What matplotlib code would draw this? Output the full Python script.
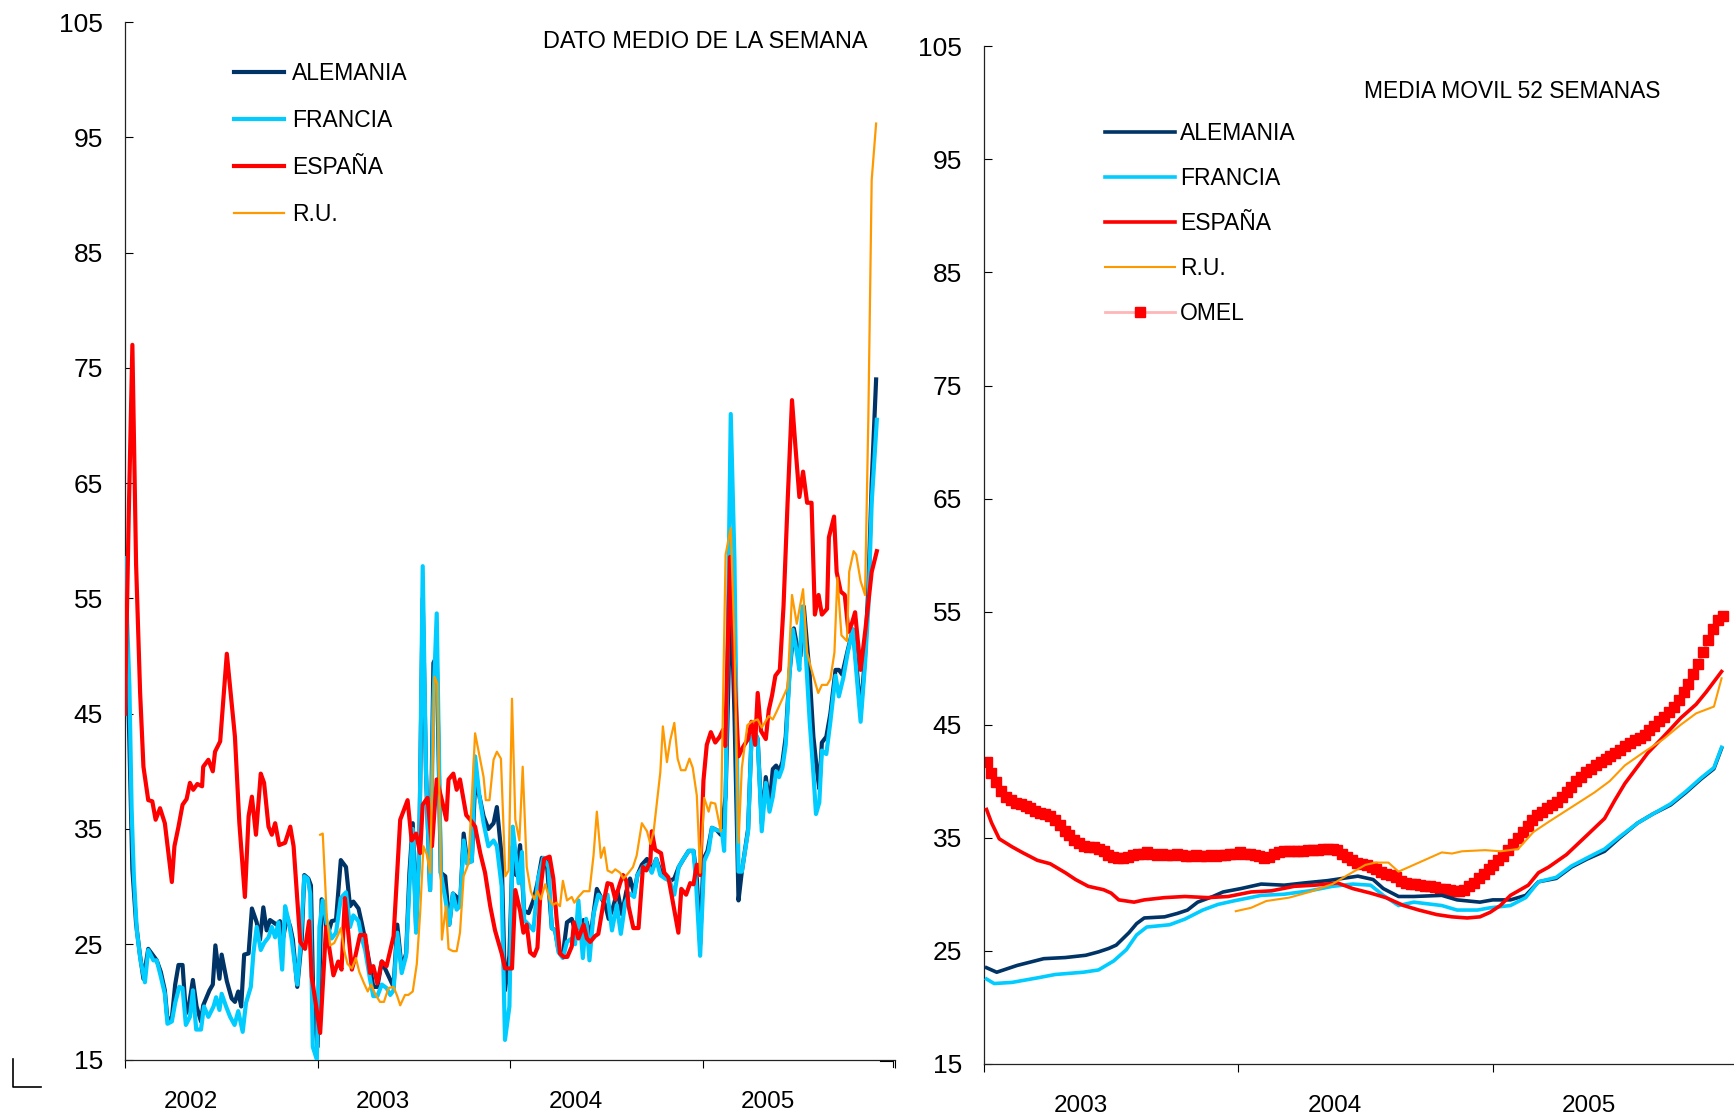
import matplotlib
matplotlib.use("Agg")
import matplotlib.pyplot as plt
from matplotlib.lines import Line2D
import numpy as np

plt.rcParams['font.family'] = ['Liberation Sans', 'DejaVu Sans']

# ---- panel izquierdo: dato medio de la semana (semanas desde 1-ene-2002) ----
es_wk = [0, 1, 2, 3, 4.1, 5, 6.3, 7.4, 8.3, 9.5, 10.8, 12.7, 13.4, 14.5, 15.6, 16.7, 17.6, 18.5, 19.6, 20.9,
         21.2, 22.6, 23.8, 24.4, 25.8, 27.6, 29.8, 31, 32.5, 33.5, 34.4, 35.5, 36.8, 37.7, 38.9, 39.8, 40.7,
         41.8, 43.4, 44.8, 45.7, 47.5, 48.8, 49.9, 50.6, 52.9, 54.5, 56.5, 57.8, 58.7, 59.6, 61.5, 62.4, 63.7,
         65.1, 66.4, 67.3, 68.4, 69.6, 70.9, 72.8, 74.6, 76.6, 77.7, 78.9, 80, 80.7, 82, 83.2, 84.5, 85.9,
         87.1, 87.7, 89, 89.9, 90.8, 92.5, 93.6, 94.9, 96.3, 97.6, 99, 100.3, 102.1, 103, 104.9, 105.8, 107.1,
         108, 108.9, 109.8, 110.9, 111.8, 112.7, 113.6, 115.1, 116.1, 117, 117.9, 118.9, 119.9, 121.1, 121.7,
         122.9, 124.3, 125.2, 126.1, 127.4, 128.3, 129.7, 130.8, 131.9, 132.9, 134.2, 135, 135.9, 136.5,
         137.8, 139.2, 140.4, 141.3, 142.4, 142.8, 143.7, 145.3, 146.2, 147.3, 148.7, 150, 150.8, 152.1,
         153.2, 154.1, 155, 155.9, 156.8, 157.7, 158.8, 160, 161.2, 162.1, 162.7, 164, 165.2, 166.3, 167.5,
         168.9, 169.8, 170.8, 171.5, 172.4, 173.7, 174.5, 175.4, 176.3, 177.5, 178.5, 179.6, 180.8, 181.7,
         182.8, 183.8, 184.9, 186.1, 187, 188, 188.9, 190.3, 190.8, 192.2, 192.9, 194, 195.1, 196.1, 197,
         197.9, 199.4, 200.7, 202.4, 203.8]
es_val = [45, 62, 77, 58, 46.8, 40.4, 37.5, 37.4, 35.8, 36.8, 35.5, 30.4, 33.5, 35.2, 37.1, 37.6, 39, 38.4, 38.9, 38.7,
          40.4, 41, 40, 41.7, 42.6, 50.2, 43, 35.5, 29.1, 36.1, 37.8, 34.5, 39.8, 39, 35.2, 34.5, 35.5,
          33.6, 33.8, 35.2, 33.5, 25.2, 24.6, 27, 22.2, 17.3, 26.5, 22.3, 23.5, 22.8, 29, 22.8, 23.9, 25.8,
          25.8, 22.5, 23.1, 21.6, 23.5, 23.1, 25.7, 35.8, 37.5, 34, 34.6, 32.9, 37.1, 37.7, 33.5, 39.3, 37.5,
          35.8, 39.3, 39.8, 38.4, 39.3, 36.2, 35.8, 35.2, 32.9, 31.2, 28.3, 26.2, 24.2, 22.9, 22.9, 29.7, 27.9,
          26, 26.7, 24.3, 24, 24.7, 30, 32.4, 32.6, 30.7, 27.2, 24.2, 23.9, 23.9, 24.8, 26.9,
          25.5, 26.7, 25.5, 25.2, 25.7, 25.9, 28.6, 30.3, 30.2, 28.9, 30.3, 31, 30.5, 28.3,
          26.4, 26.4, 31.7, 31.4, 32.2, 34.8, 33.2, 32.9, 31.2, 30.8, 28.3, 26, 29.8, 29.3,
          30.3, 30.2, 31.9, 31, 39.2, 42.3, 43.4, 42.5, 43, 43.6, 42.2, 58.6, 48.3, 41.3, 42.1,
          42.8, 44.3, 42.3, 46.8, 43.5, 42.8, 45.3, 46.6, 48.3, 48.8, 54.3, 63.3, 72.2, 68.3,
          63.8, 66, 63.3, 63.3, 53.6, 55.3, 53.6, 54.1, 60.3, 62.1, 57.3, 55.6, 55.3, 52.1, 52.8,
          53.8, 48.8, 52.3, 57.3, 59.1]

de_wk = [0, 1, 2, 3, 4, 5, 6.3, 7.7, 8.6, 9.7, 10.8, 11.5, 12.7, 13.6, 14.5, 15.6, 16.5, 17.2, 18.4, 19.4,
         20.6, 21.2, 22.9, 23.8, 24.5, 25.6, 26.2, 27.6, 28.9, 29.8, 30.7, 31.5, 32.3, 33.5, 34.4, 35.7, 36.6,
         37.5, 38.4, 39.3, 40.2, 41.1, 42, 42.9, 43.9, 44.8, 45.5, 46.7, 47.9, 48.6, 49.7, 50.4, 51.1, 52.2,
         53.3, 54, 54.7, 56, 57.2, 58.5, 59.9, 61, 61.9, 63.3, 64.2, 65.1, 66.4, 67.3, 68.4, 69.6, 70.9, 71.9,
         72.8, 73.8, 75, 76.2, 77.1, 78, 78.9, 79.8, 80.7, 81.6, 82.7, 83.6, 84.5, 85.6, 86.8, 87.9, 88.9,
         89.9, 90.8, 91.8, 92.7, 94, 94.9, 96.1, 97.2, 98.5, 99.9, 100.8, 102.1, 103, 104.2, 105.1, 106,
         107.1, 108.2, 109.4, 110.7, 111.8, 113, 114.3, 115.7, 116.6, 117.5, 118.7, 119.8, 121.1, 122, 123.2,
         124.3, 125.2, 126.1, 127.9, 129.3, 130.2, 131.1, 132.2, 133.5, 134.7, 135.9, 136.9, 138, 138.9,
         140.1, 141.5, 142.8, 144, 145.1, 146.4, 147.8, 148.9, 150.1, 151.4, 152.8, 154.1, 155, 155.9, 156.8,
         157.9, 159.1, 160.4, 161.5, 162.8, 164.2, 165.2, 166.3, 167.2, 168.9, 169.8, 170.8, 171.5, 172.6,
         173.7, 174.7, 175.6, 176.5, 177.3, 178.2, 179.1, 180.1, 181.3, 182.1, 183.1, 184, 185.6, 186.6,
         187.6, 188.2, 188.9, 190.1, 191.2, 192.6, 193.5, 194.4, 195.9, 197.3, 198.2, 199.4, 200.6, 201.5,
         202.4, 203.6]
de_val = [55, 45, 31.5, 26.8, 24.2, 22, 24.6, 24, 23.6, 22.6, 21, 18.5, 18.6, 21.5, 23.2, 23.2, 19, 19.4, 21.9, 19.6,
          18.3, 19.7, 21, 21.5, 24.9, 22, 24.1, 21.8, 20.3, 20, 20.9, 19.6, 24.1, 24.2, 28.1, 26.9, 25.4,
          28.2, 26.2, 27.1, 26.9, 26.7, 27, 25.6, 27.4, 26.5, 25.4, 21.3, 25.4, 31, 30.7, 30.1, 19.3, 16.1,
          28.9, 28.5, 25.5, 27, 27.1, 32.3, 31.7, 28.3, 28.7, 28.1, 26.8, 25.4, 23.1, 21.3, 21.3, 23.5, 22.6, 21.9,
          21.3, 26.7, 22.9, 24.2, 31.2, 35.5, 26.5, 34, 55, 39.8, 29.7, 49.4, 50, 31.2, 30.9, 26.7, 29.4,
          29.1, 28.3, 34.6, 32.3, 32.2, 39, 37.8, 36.1, 35, 35.5, 36.9, 32.6, 21, 24, 33.5, 31,
          33.6, 27.9, 27.7, 28.8, 30.3, 32.5, 32.2, 26.4, 26.2, 24.5, 24.1, 26.9, 27.2, 26.2, 26.5,
          27.1, 26.9, 25.5, 29.8, 28.9, 28.4, 27.2, 28.1, 29.6, 27.6, 29.6, 30.7, 29.4, 31,
          31.9, 32.4, 31.4, 32.4, 31.4, 30.8, 30.5, 30.7, 31.7, 32.4, 33.1, 33.1, 30.7, 25, 32.4,
          33.1, 35.1, 34.9, 34.5, 37.8, 56, 45, 28.8, 31.3, 35, 42.8, 43.3, 42.8, 35.5,
          39.5, 37, 40.2, 40.5, 40, 40.8, 43, 48.5, 52.4, 51, 50, 54.3, 48.3, 43,
          40, 38.5, 42.5, 43, 45, 48.8, 48.8, 48.4, 50.5, 52.3, 49.5, 45, 50, 56,
          65, 74]

fr_wk = [0, 1.2, 1.8, 2.4, 3.2, 4.2, 5.4, 6.3, 7.7, 8.6, 9.7, 10.8, 11.5, 12.7, 13.6, 14.7, 15.6, 16.5, 17.6,
         18.4, 19.3, 20.6, 21.4, 22.6, 24, 24.7, 25.6, 26.2, 27.4, 28.5, 29.7, 30.7, 31.9, 32.8, 34.1, 34.8,
         35.7, 36.8, 37.7, 38.9, 39.8, 40.7, 41.6, 42.6, 43.4, 44.3, 45.2, 46.7, 47.6, 48.6, 49.5, 50.2, 50.9,
         52, 52.7, 53.6, 54.7, 56, 57.2, 58.5, 59.9, 61, 61.9, 63.3, 64.2, 65.1, 66.4, 67.3, 68.4, 69.6, 70.9,
         71.9, 72.8, 73.8, 75, 76.2, 77.1, 78, 78.9, 79.8, 80.7, 81.6, 82.7, 83.6, 84.5, 85.6, 86.8, 87.9,
         88.9, 89.9, 90.8, 91.8, 92.7, 94, 94.9, 96.1, 97.2, 98.5, 99.9, 100.8, 102.1, 103, 104.2, 105.1,
         106.7, 107.6, 108.2, 109.4, 110.7, 112, 113.4, 114.8, 115.7, 116.6, 117.5, 118.7, 119.8, 121.1, 122,
         122.9, 124.1, 125, 125.9, 127, 128.3, 129.5, 130.8, 132, 133.3, 134.4, 135.6, 136.8, 138, 138.9,
         140.4, 141.6, 142.8, 144, 145.1, 146.4, 147.6, 148.9, 150.1, 151.4, 152.8, 154.1, 154.8, 155.9, 157,
         158.2, 159.1, 160.4, 161.8, 162.4, 162.8, 164.2, 165.2, 166.3, 167.2, 168.9, 169.8, 170.8, 171.5,
         172.6, 173.7, 174.7, 175.6, 176.5, 177.3, 178.2, 179.1, 180.1, 181, 182.1, 182.8, 183.6, 184.5,
         185.6, 186.6, 187.3, 188.2, 188.9, 190.1, 191.2, 192.6, 193.5, 194.7, 195.9, 197.3, 198.2, 199.4,
         200.6, 201.5, 202.4, 203.8]
fr_val = [58.5, 47.3, 36.6, 30.9, 26.2, 23.6, 21.7, 24.5, 23.6, 23.6, 22.2, 20.7, 18.1, 18.3, 19.9, 21.3, 21.2, 18, 18.7,
          21, 17.6, 17.6, 19.6, 18.7, 19.6, 20.4, 19.3, 20.7, 19.6, 18.7, 18, 19.2, 17.4, 19.9, 21.3, 24.2,
          26.5, 24.5, 25.1, 25.6, 26.5, 25.6, 26.9, 22.8, 28.3, 27.1, 25.4, 21.5, 25.1, 30.9, 30.7, 29.4, 16.1,
          15, 26.5, 28.8, 26.8, 25.5, 26, 29, 29.5, 26.5, 27.5, 27, 25.5, 24.5, 22, 20.5, 20.5, 21.5, 21.2,
          20.6, 21, 26, 22.5, 24, 30, 35, 26, 33.5, 57.8, 39.8, 29.7, 46, 53.7, 31.2, 29, 26.7,
          29.4, 28, 28.3, 34, 32, 32.2, 41.3, 37.8, 35.5, 33.5, 34, 33.5, 30, 16.7, 19.6, 35.2,
          30.3, 33, 27.1, 26.7, 26.2, 30.7, 32.5, 31.7, 26.4, 26.2, 24.3, 23.8, 25.2, 25.5, 25,
          28.8, 23.8, 27.2, 23.6, 27.6, 29.3, 28.9, 29.3, 26.2, 28.4, 25.9, 28.6, 29.4, 29.1, 31,
          31.7, 31.9, 31.2, 32.4, 31, 30.7, 30.5, 29.3, 31.7, 32.4, 33.1, 33.1, 30.3, 24, 32.2,
          33.1, 35.1, 34.9, 34.8, 33.1, 37.8, 71, 58.3, 31.3, 31.3, 34.8, 42.8, 43.3, 42.8,
          34.8, 39, 36.5, 37.8, 40, 39.5, 40.3, 42.3, 48.3, 52.3, 50.3, 48.8, 54.3, 50.3,
          44.3, 39.8, 36.3, 37.3, 41.8, 41.5, 44.3, 48.3, 46.5, 48.1, 50.3, 52.3, 48.8, 44.3,
          49.3, 54.3, 63.3, 70.5]

ru_wk = [52.9, 53.6, 54.7, 55.6, 56.7, 57.6, 58.5, 59.4, 60.3, 61.5, 62.6, 63.5, 64.8, 65.8, 66.7, 67.8, 69.1,
         70.2, 71.4, 72.8, 73.8, 74.6, 75.9, 76.8, 78, 79.1, 80, 80.9, 81.8, 82.7, 83.9, 84.7, 85.9, 87, 87.7,
         88.9, 89.9, 90.8, 91.8, 93.1, 94.9, 96.1, 97.2, 97.8, 98.8, 99.9, 100.8, 101.9, 103.1, 104, 104.9,
         105.8, 106.9, 107.8, 108.9, 110, 110.9, 111.8, 112.7, 113.9, 115.1, 116, 116.9, 117.9, 118.7, 119.8,
         121.1, 121.8, 122.9, 124.3, 125.9, 127, 127.9, 129, 129.9, 130.8, 132, 132.9, 134.2, 135.1, 136.5,
         137.7, 138.7, 140.1, 141.5, 142.4, 143.3, 144.4, 145.1, 145.8, 146.9, 147.8, 148.9, 149.8, 150.7,
         151.9, 153, 153.9, 155, 155.9, 157, 158.2, 158.8, 160, 161.5, 162.8, 164.2, 165.2, 166.3, 167.2,
         168.7, 169.8, 171.5, 172.6, 174.5, 175.6, 176.8, 178.2, 179.6, 180.8, 182.1, 183.8, 184.9, 186.1,
         187.9, 188.9, 190.3, 191.2, 192.3, 193.1, 194.2, 195.7, 196.3, 197.5, 198.2, 199.4, 200.6, 201.5,
         202.4, 203.6]
ru_val = [34.5, 34.6, 27.4, 24.9, 25.1, 25.7, 26.4, 24.5, 23.3, 22.9, 23.8, 22.6, 21.6, 20.9, 21.5, 20.7, 20,
          20, 21.2, 21.3, 20.5, 19.7, 20.6, 20.6, 20.9, 23.3, 27.7, 33.5, 32.8, 31.2, 48.2, 47.6, 25.4, 28.3, 24.6,
          24.4, 24.4, 26, 30.9, 32, 43.3, 41.3, 39.5, 37.5, 37.5, 41, 41.7, 41.1, 30.9, 31.4, 46.3,
          35.8, 34, 40.4, 31.7, 29.6, 28.9, 29.6, 28.9, 30.2, 28.9, 28.4, 28.6, 28.3, 30.5, 28.8,
          29.1, 28.6, 29.1, 29.6, 29.6, 32.7, 36.5, 32.5, 33.4, 31.4, 31.2, 31.5, 31.2, 30.7, 31.2,
          31.7, 32.7, 35.5, 34.8, 33.7, 34.8, 37.9, 39.9, 43.9, 40.8, 42.7, 44.2, 41.1, 40.1,
          40.1, 41.1, 40.3, 37.9, 31.2, 37.7, 36.5, 37.3, 37.2, 34.8, 58.8, 61.1, 51.3, 33.8, 40.3,
          44, 44.3, 44.5, 43.8, 44.8, 44.5, 45.3, 46.3, 47.3, 55.3, 52.8, 55.8, 50.3, 48.8,
          46.8, 47.5, 47.5, 48, 50.3, 56.8, 51.8, 51.3, 57.3, 59.1, 58.8, 56.5, 55.3, 70.8,
          91.3, 96.2]

# ---- panel derecho: media movil 52 semanas (fecha en años) ----
mm_de_t = [2003.01, 2003.05, 2003.13, 2003.2, 2003.235, 2003.32, 2003.4, 2003.45, 2003.49, 2003.52, 2003.57,
           2003.6, 2003.63, 2003.71, 2003.76, 2003.8, 2003.84, 2003.9, 2003.94, 2004.01, 2004.09, 2004.18,
           2004.26, 2004.35, 2004.41, 2004.47, 2004.53, 2004.57, 2004.63, 2004.69, 2004.8, 2004.86, 2004.95,
           2005.0, 2005.07, 2005.13, 2005.18, 2005.25, 2005.31, 2005.37, 2005.44, 2005.5, 2005.57, 2005.63,
           2005.7, 2005.76, 2005.82, 2005.87, 2005.9]
mm_de_val = [23.5, 23.1, 23.7, 24.1, 24.3, 24.4, 24.6, 24.9, 25.2, 25.5, 26.6, 27.4, 27.9, 28, 28.3, 28.6, 29.3,
             29.8, 30.2, 30.5, 30.9, 30.8, 31, 31.2, 31.4, 31.6, 31.3, 30.5, 29.8, 29.8, 29.9, 29.5, 29.3,
             29.5, 29.5, 29.9, 31.1, 31.4, 32.4, 33.1, 33.8, 35, 36.3, 37.1, 37.9, 39, 40.2, 41.1, 42.9]

mm_fr_t = [2003.01, 2003.04, 2003.11, 2003.21, 2003.28, 2003.39, 2003.45, 2003.51, 2003.56, 2003.6, 2003.64,
           2003.73, 2003.79, 2003.86, 2003.92, 2003.98, 2004.09, 2004.18, 2004.28, 2004.37, 2004.45, 2004.52,
           2004.57, 2004.63, 2004.69, 2004.8, 2004.86, 2004.94, 2004.99, 2005.07, 2005.13, 2005.18, 2005.25,
           2005.31, 2005.37, 2005.44, 2005.5, 2005.57, 2005.63, 2005.7, 2005.76, 2005.82, 2005.87, 2005.9]
mm_fr_val = [22.5, 22.1, 22.2, 22.6, 22.9, 23.1, 23.3, 24.1, 25.1, 26.4, 27.1, 27.3, 27.8, 28.6, 29.1, 29.4,
             29.9, 30, 30.3, 30.7, 30.9, 30.8, 29.9, 29, 29.3, 29, 28.6, 28.6, 28.8, 29, 29.7, 31.1, 31.5,
             32.5, 33.2, 34, 35.1, 36.3, 37.1, 38, 39.1, 40.3, 41.2, 43]

mm_es_t = [2003.01, 2003.03, 2003.06, 2003.11, 2003.15, 2003.21, 2003.26, 2003.32, 2003.36, 2003.41, 2003.47,
           2003.5, 2003.53, 2003.59, 2003.63, 2003.71, 2003.79, 2003.88, 2003.96, 2004.05, 2004.13, 2004.22,
           2004.3, 2004.39, 2004.45, 2004.52, 2004.58, 2004.65, 2004.71, 2004.78, 2004.84, 2004.9, 2004.95,
           2004.99, 2005.03, 2005.07, 2005.14, 2005.18, 2005.22, 2005.29, 2005.37, 2005.44, 2005.48, 2005.52,
           2005.56, 2005.61, 2005.67, 2005.74, 2005.8, 2005.84, 2005.9]
mm_es_val = [37.5, 36.3, 34.9, 34.2, 33.7, 33, 32.7, 31.9, 31.3, 30.7, 30.4, 30.1, 29.5, 29.3, 29.5, 29.7, 29.8,
             29.7, 29.8, 30.2, 30.3, 30.7, 30.8, 31, 30.5, 30.1, 29.7, 29, 28.6, 28.2, 28, 27.9, 28, 28.4, 29,
             29.9, 30.8, 31.9, 32.4, 33.5, 35.2, 36.7, 38.3, 39.8, 41, 42.5, 43.9, 45.6, 46.8, 47.9, 49.7]

mm_ru_t = [2003.99, 2004.05, 2004.11, 2004.2, 2004.28, 2004.37, 2004.43, 2004.5, 2004.54, 2004.59, 2004.63,
           2004.67, 2004.73, 2004.8, 2004.84, 2004.88, 2004.97, 2005.03, 2005.1, 2005.16, 2005.22, 2005.31,
           2005.4, 2005.46, 2005.52, 2005.59, 2005.67, 2005.74, 2005.8, 2005.87, 2005.9]
mm_ru_val = [28.5, 28.8, 29.4, 29.7, 30.2, 30.9, 31.7, 32.6, 32.8, 32.8, 32, 32.4, 33, 33.7, 33.6, 33.8, 33.9,
             33.8, 34, 35.5, 36.4, 37.7, 39, 40, 41.4, 42.5, 43.7, 45, 46, 46.6, 49.1]

# OMEL: un dato por semana desde la primera semana de 2003
omel_inicio = 2003.01
omel_val = [41.7, 40.7, 39.9, 39.1, 38.6, 38.3, 38.1, 38.0, 37.8, 37.6, 37.4, 37.2, 37.1, 36.9, 36.6, 36.1,
            35.6, 35.2, 34.8, 34.5, 34.3, 34.2, 34.2, 34.0, 33.8, 33.5, 33.3, 33.2, 33.2, 33.3, 33.5, 33.6,
            33.6, 33.7, 33.6, 33.5, 33.6, 33.5, 33.5, 33.6, 33.5, 33.4, 33.4, 33.5, 33.4, 33.4, 33.5, 33.4,
            33.5, 33.5, 33.6, 33.6, 33.7, 33.6, 33.6, 33.5, 33.4, 33.2, 33.3, 33.6, 33.7, 33.8, 33.8, 33.8,
            33.8, 33.8, 33.9, 33.9, 33.9, 34.0, 34.0, 34.0, 33.9, 33.6, 33.3, 33.0, 32.8, 32.7, 32.6, 32.4,
            32.2, 32.0, 31.8, 31.7, 31.5, 31.2, 31.0, 30.9, 30.9, 30.8, 30.7, 30.7, 30.6, 30.5, 30.5, 30.4,
            30.3, 30.3, 30.4, 30.7, 31.0, 31.4, 31.8, 32.2, 32.6, 33.0, 33.4, 33.9, 34.4, 35.0, 35.5, 36.0,
            36.6, 37.0, 37.3, 37.6, 37.9, 38.2, 38.6, 39.0, 39.5, 40.0, 40.4, 40.8, 41.1, 41.4, 41.7, 42.0,
            42.2, 42.5, 42.8, 43.1, 43.4, 43.6, 43.8, 44.1, 44.5, 44.9, 45.3, 45.7, 46.1, 46.6, 47.2, 47.9,
            48.6, 49.5, 50.4, 51.4, 52.5, 53.5, 54.3, 54.6]

c_de = '#003366'
c_fr = '#00CCFF'
c_es = '#FF0000'
c_ru = '#FF9900'

W, H = 1734, 1114
fig = plt.figure(figsize=(W / 100, H / 100), dpi=100)


def style_axes(ax, x0, x1, lab_off):
    for s in ['top', 'right']:
        ax.spines[s].set_visible(False)
    for s in ['left', 'bottom']:
        ax.spines[s].set_linewidth(0.9)
        ax.spines[s].set_color('#222222')
    ax.set_ylim(15, 105)
    ax.set_yticks(range(15, 106, 10))
    ax.tick_params(axis='y', direction='in', length=6, width=0.8, labelsize=19, pad=16)
    ax.set_xlim(x0, x1)
    years = list(range(x0, x1 + 1))
    ax.set_xticks(years)
    ax.set_xticklabels([''] * len(years))
    ax.set_xticks([y + lab_off for y in range(x0, x1)], minor=True)
    ax.set_xticklabels([str(y) for y in range(x0, x1)], minor=True)
    ax.tick_params(axis='x', which='major', direction='out', length=6, width=0.8)
    ax.tick_params(axis='x', which='minor', length=0, labelsize=17.5, pad=22.5)


# izquierda
ax1 = fig.add_axes([125 / W, 1 - 1059.5 / H, 770 / W, 1037.4 / H])
style_axes(ax1, 2002, 2006, 0.34)
yr = lambda wk: 2002 + np.asarray(wk) / 52.18
ax1.plot(yr(de_wk), de_val, color=c_de, lw=3.0, label='ALEMANIA', zorder=2)
ax1.plot(yr(fr_wk), fr_val, color=c_fr, lw=3.0, label='FRANCIA', zorder=3)
ax1.plot(yr(es_wk), es_val, color=c_es, lw=3.0, label='ESPAÑA', zorder=4)
ax1.plot(yr(ru_wk), ru_val, color=c_ru, lw=1.6, label='R.U.', zorder=5)
ax1.text(705 / W, 1 - 41 / H, 'DATO MEDIO DE LA SEMANA', transform=fig.transFigure,
         ha='center', va='center', fontsize=16.9)
ax1.legend(loc='upper left', bbox_to_anchor=(234 / W, 1 - 62 / H), bbox_transform=fig.transFigure,
           frameon=False, fontsize=16.5, handlelength=2.17, handletextpad=0.35, labelspacing=1.05,
           borderpad=0, borderaxespad=0)

# derecha
ax2 = fig.add_axes([984 / W, 1 - 1063.8 / H, 763 / W, 1017.4 / H])
style_axes(ax2, 2003, 2006, 0.38)
omel_t = omel_inicio + np.arange(len(omel_val)) / 52.18
ax2.plot(mm_de_t, mm_de_val, color=c_de, lw=2.6, label='ALEMANIA', zorder=3)
ax2.plot(mm_fr_t, mm_fr_val, color=c_fr, lw=2.6, label='FRANCIA', zorder=4)
ax2.plot(mm_es_t, mm_es_val, color=c_es, lw=2.6, label='ESPAÑA', zorder=5)
ax2.plot(mm_ru_t, mm_ru_val, color=c_ru, lw=1.5, label='R.U.', zorder=6)
ax2.plot(omel_t, omel_val, color='#FFB6B6', lw=2.0, marker='s', ms=7, mfc=c_es, mec=c_es,
         label='OMEL', zorder=2)
ax2.text(1512 / W, 1 - 92 / H, 'MEDIA MOVIL 52 SEMANAS', transform=fig.transFigure,
         ha='center', va='center', fontsize=16.4)
ax2.legend(loc='upper left', bbox_to_anchor=(1105 / W, 1 - 122 / H), bbox_transform=fig.transFigure,
           frameon=False, fontsize=16.5, handlelength=3.04, handletextpad=0.24, labelspacing=0.965,
           borderpad=0, borderaxespad=0, markerscale=1.0)

# pequeñas marcas de esquina
fig.add_artist(Line2D([13 / W, 13 / W, 41 / W], [1 - 1059 / H, 1 - 1087 / H, 1 - 1087 / H],
                      transform=fig.transFigure, color='black', lw=1.2))
fig.add_artist(Line2D([880 / W, 893 / W, 893 / W], [1 - 1061 / H, 1 - 1061 / H, 1 - 1067 / H],
                      transform=fig.transFigure, color='black', lw=0.8))

fig.savefig('out.png', dpi=100)
